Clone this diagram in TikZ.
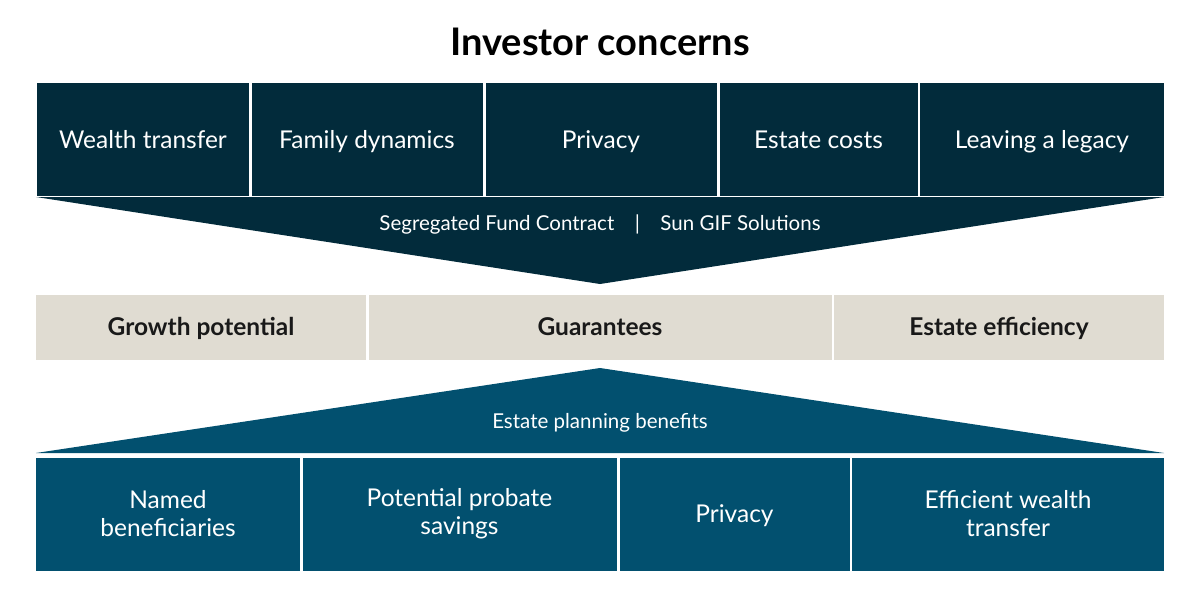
\documentclass[tikz,border=0pt]{standalone}
\usepackage{fontspec}
\setmainfont{Lato}
\definecolor{navy}{HTML}{022B3B}
\definecolor{sea}{HTML}{02506F}
\definecolor{sand}{HTML}{E0DCD2}

\begin{document}
\begin{tikzpicture}[x=1pt,y=-1pt]
	\tikzset{oneline/.style={text height=17.6pt, text depth=0pt}}
	\tikzset{topbox/.style={fill=navy, text=white, minimum height=113pt, inner sep=0pt, oneline, font=\fontsize{24.5}{28}\selectfont}}
	\tikzset{midbox/.style={fill=sand, text=black!90, minimum height=65pt, inner sep=0pt, oneline, font=\fontsize{24.5}{28}\selectfont\bfseries}}
	\tikzset{lowbox/.style={fill=sea, text=white, minimum height=113pt, inner sep=0pt, align=center, font=\fontsize{24.5}{28}\selectfont}}
	\useasboundingbox (0,0) rectangle (1200,600);
	\node[font=\fontsize{38}{44}\selectfont\bfseries] (title) at (600,42) {Investor concerns};
	% concerns
	\node[topbox, minimum width=212pt] (wt) at (143,139.5) {Wealth transfer};
	\node[topbox, minimum width=231pt] (fd) at (367,139.5) {Family dynamics};
	\node[topbox, minimum width=231pt] (pr) at (601,139.5) {Privacy};
	\node[topbox, minimum width=198pt] (ec) at (818.5,139.5) {Estate costs};
	\node[topbox, minimum width=244pt] (lg) at (1042,139.5) {Leaving a legacy};
	\coordinate (fl) at (36,197);
	\coordinate (fr) at (1164,197);
	\coordinate (ft) at (600,284);
	\fill[navy] (fl) -- (fr) -- (ft) -- cycle;
	\node[text=white, font=\fontsize{20.5}{24}\selectfont] (seg) at (600,225) {Segregated Fund Contract\quad|\quad Sun GIF Solutions};
	% features
	\node[midbox, minimum width=330pt] (gp) at (201,327) {Growth potential};
	\node[midbox, minimum width=463pt] (gu) at (600,327) {Guarantees};
	\node[midbox, minimum width=330pt] (ee) at (999,327) {Estate efficiency};
	\coordinate (bl) at (36,453);
	\coordinate (br) at (1164,453);
	\coordinate (bt) at (600,368);
	\fill[sea] (bl) -- (br) -- (bt) -- cycle;
	\node[text=white, font=\fontsize{20.5}{24}\selectfont] (epb) at (600,423) {Estate planning benefits};
	% benefits
	\node[lowbox, minimum width=264pt] (nb) at (168,514) {Named\\beneficiaries};
	\node[lowbox, minimum width=314pt] (ps) at (459.5,514) {Potential probate\\savings};
	\node[lowbox, minimum width=230pt, oneline] (pv) at (734.5,514) {Privacy};
	\node[lowbox, minimum width=312pt] (ew) at (1008,514) {Efficient wealth\\transfer};
\end{tikzpicture}
\end{document}
